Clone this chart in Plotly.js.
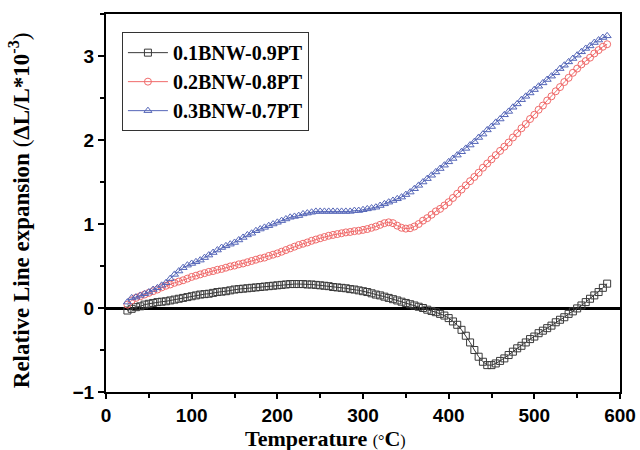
<!DOCTYPE html>
<html>
<head>
<meta charset="utf-8">
<script src="https://cdn.plot.ly/plotly-3.0.1.min.js"></script>
<style>html,body{margin:0;padding:0;background:#fff;}#chart{width:640px;height:450px;}</style>
</head>
<body>
<div id="chart"></div>
<script>
const temperature = [25,30,35,40,45,50,55,60,65,70,75,80,85,90,95,100,105,110,115,120,125,130,135,140,145,150,155,160,165,170,175,180,185,190,195,200,205,210,215,220,225,230,235,240,245,250,255,260,265,270,275,280,285,290,295,300,305,310,315,320,325,330,335,340,345,350,355,360,365,370,375,380,385,390,395,400,405,410,415,420,425,430,435,440,445,450,455,460,465,470,475,480,485,490,495,500,505,510,515,520,525,530,535,540,545,550,555,560,565,570,575,580,585];

const s1Name = "0.1BNW-0.9PT";
const s1 = [-0.03,-0.01,0.01,0.02,0.04,0.05,0.06,0.07,0.075,0.08,0.09,0.10,0.11,0.12,0.13,0.14,0.15,0.16,0.165,0.17,0.18,0.19,0.195,0.20,0.21,0.22,0.225,0.23,0.235,0.24,0.245,0.25,0.255,0.26,0.265,0.27,0.275,0.28,0.285,0.285,0.285,0.285,0.28,0.28,0.275,0.27,0.265,0.26,0.25,0.245,0.24,0.235,0.225,0.22,0.21,0.20,0.19,0.175,0.16,0.15,0.135,0.12,0.105,0.09,0.075,0.06,0.045,0.03,0.015,0.00,-0.02,-0.035,-0.05,-0.07,-0.09,-0.12,-0.16,-0.20,-0.26,-0.33,-0.41,-0.50,-0.58,-0.64,-0.68,-0.68,-0.66,-0.63,-0.60,-0.56,-0.52,-0.48,-0.45,-0.41,-0.37,-0.34,-0.30,-0.27,-0.24,-0.21,-0.17,-0.14,-0.11,-0.07,-0.04,-0.005,0.03,0.07,0.11,0.15,0.19,0.24,0.29];

const s2Name = "0.2BNW-0.8PT";
const s2 = [0.04,0.09,0.12,0.14,0.16,0.18,0.20,0.22,0.245,0.265,0.28,0.30,0.315,0.33,0.35,0.37,0.385,0.40,0.415,0.43,0.44,0.455,0.465,0.48,0.495,0.505,0.52,0.53,0.545,0.56,0.575,0.59,0.60,0.62,0.635,0.65,0.67,0.69,0.71,0.73,0.75,0.765,0.78,0.80,0.815,0.83,0.845,0.86,0.87,0.88,0.89,0.90,0.905,0.915,0.92,0.93,0.94,0.955,0.97,0.99,1.01,1.02,1.01,0.98,0.955,0.945,0.95,0.97,1.00,1.04,1.07,1.11,1.15,1.18,1.22,1.26,1.31,1.36,1.41,1.46,1.51,1.56,1.61,1.67,1.72,1.77,1.82,1.87,1.92,1.97,2.03,2.08,2.14,2.19,2.25,2.30,2.36,2.41,2.47,2.52,2.58,2.63,2.69,2.74,2.80,2.85,2.90,2.94,2.98,3.03,3.07,3.11,3.14];

const s3Name = "0.3BNW-0.7PT";
const s3 = [0.07,0.12,0.13,0.15,0.17,0.19,0.22,0.24,0.27,0.30,0.35,0.40,0.44,0.48,0.51,0.53,0.55,0.57,0.60,0.63,0.66,0.69,0.72,0.74,0.76,0.78,0.81,0.84,0.87,0.89,0.92,0.94,0.96,0.98,1.00,1.02,1.04,1.06,1.08,1.09,1.10,1.12,1.13,1.14,1.15,1.15,1.15,1.15,1.15,1.15,1.15,1.15,1.15,1.16,1.16,1.17,1.18,1.19,1.20,1.22,1.24,1.26,1.28,1.30,1.32,1.35,1.38,1.42,1.46,1.50,1.54,1.58,1.62,1.66,1.70,1.74,1.78,1.82,1.86,1.90,1.94,1.98,2.03,2.07,2.12,2.16,2.21,2.25,2.30,2.34,2.39,2.43,2.48,2.52,2.56,2.60,2.64,2.68,2.72,2.76,2.80,2.85,2.89,2.93,2.97,3.01,3.05,3.09,3.12,3.16,3.19,3.22,3.24];

const xTitle = "<b>Temperature </b><span style='font-size:16px'>(°</span><b>C</b><span style='font-size:16px'>)</span>";
const yTitle = "<b>Relative Line expansion </b>(<b>ΔL/L*10<sup>-3</sup></b>)";

function mk(y, name, color, symbol) {
  return {
    x: temperature, y: y, name: name, type: 'scatter', mode: 'lines+markers',
    line: {color: color, width: 1},
    marker: {symbol: symbol, size: 7, color: color, line: {color: color, width: 1}}
  };
}
const data = [
  mk(s1, s1Name, '#3a3a3a', 'square-open'),
  mk(s2, s2Name, '#f06a6a', 'circle-open'),
  mk(s3, s3Name, '#5566b8', 'triangle-up-open')
];

const tickFont = {family: 'Liberation Sans, Arial, sans-serif', size: 19, color: '#000', weight: 'bold'};
const layout = {
  width: 640, height: 450,
  margin: {l: 106, r: 20, t: 14, b: 58},
  paper_bgcolor: '#fff', plot_bgcolor: '#fff',
  showlegend: true,
  legend: {x: 0.031, y: 0.952, xanchor: 'left', yanchor: 'top',
    bordercolor: '#333', borderwidth: 1, bgcolor: 'rgba(255,255,255,0)',
    font: {family: 'Liberation Serif, Times New Roman, serif', size: 20, color: '#000', weight: 'bold'},
    tracegroupgap: 0, itemwidth: 40},
  xaxis: {range: [0, 600], dtick: 100, tick0: 0, showgrid: false, zeroline: false,
    showline: true, linecolor: '#000', linewidth: 2, mirror: true,
    ticks: 'outside', ticklen: 5, tickwidth: 2, tickcolor: '#000', tickfont: tickFont,
    minor: {dtick: 50, ticks: 'outside', ticklen: 4, tickwidth: 2, tickcolor: '#000', showgrid: false}},
  yaxis: {range: [-1, 3.5], dtick: 1, tick0: 0, showgrid: false,
    zeroline: true, zerolinecolor: '#000', zerolinewidth: 3,
    showline: true, linecolor: '#000', linewidth: 2, mirror: true,
    ticks: 'outside', ticklen: 6, tickwidth: 2, tickcolor: '#000', tickfont: tickFont,
    minor: {dtick: 0.5, ticks: 'outside', ticklen: 4, tickwidth: 2, tickcolor: '#000', showgrid: false}},
  annotations: [
    {text: xTitle, xref: 'paper', yref: 'paper', x: 0.428, y: -0.123, xanchor: 'center', yanchor: 'middle', showarrow: false,
     font: {family: 'Liberation Serif, Times New Roman, serif', size: 22, color: '#000'}},
    {text: yTitle, xref: 'paper', yref: 'paper', x: -0.168, y: 0.48, xanchor: 'center', yanchor: 'middle', showarrow: false, textangle: -90,
     font: {family: 'Liberation Serif, Times New Roman, serif', size: 23, color: '#000'}}
  ]
};
Plotly.newPlot('chart', data, layout, {displayModeBar: false, staticPlot: true});
</script>
</body>
</html>
